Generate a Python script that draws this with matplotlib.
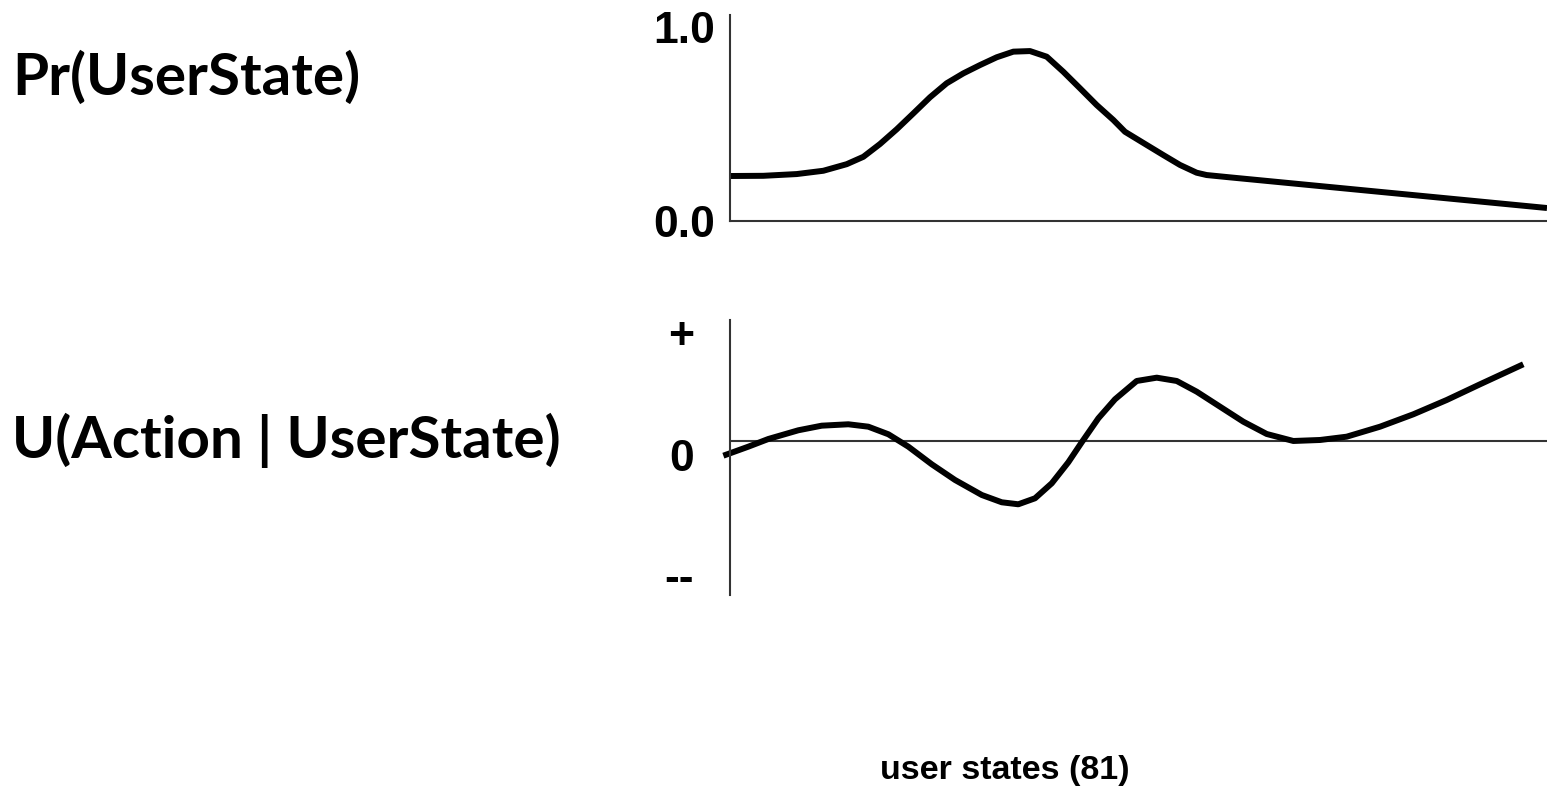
import matplotlib
matplotlib.use('Agg')
import matplotlib.pyplot as plt

## data (x = user state index, 0..81)
pr_x = [0, 3.30, 6.61, 9.25, 11.57, 13.22, 14.87, 16.53, 18.18, 19.83, 21.48, 23.13, 24.79, 26.44,
        28.09, 29.74, 31.40, 33.05, 34.70, 36.35, 38.00, 39.16, 41.31, 42.96, 44.61, 46.26, 47.25,
        49.57, 81]
pr_y = [0.232, 0.233, 0.242, 0.259, 0.293, 0.331, 0.397, 0.473, 0.555, 0.638, 0.710, 0.761, 0.804,
        0.844, 0.873, 0.876, 0.847, 0.769, 0.684, 0.598, 0.521, 0.460, 0.392, 0.340, 0.289, 0.249,
        0.237, 0.225, 0.067]

u_x = [-0.66, 1.81, 3.80, 6.77, 9.09, 11.73, 13.71, 15.70, 17.68, 20.00, 22.31, 24.96, 26.94,
       28.58, 30.24, 31.90, 33.54, 34.87, 36.52, 38.17, 40.32, 42.31, 44.29, 46.27, 48.58, 50.89,
       53.21, 55.85, 58.50, 61.14, 64.45, 67.75, 71.06, 74.36, 78.65]
u_y = [-0.147, -0.057, 0.02, 0.107, 0.153, 0.167, 0.143, 0.067, -0.057, -0.233, -0.39, -0.54,
       -0.613, -0.633, -0.573, -0.423, -0.213, -0.013, 0.227, 0.417, 0.60, 0.633, 0.60, 0.493,
       0.343, 0.193, 0.07, 0.0, 0.01, 0.043, 0.143, 0.267, 0.41, 0.567, 0.767]

pr_ticks = [0.0, 1.0]
pr_ticklabels = ['0.0', '1.0']
u_ticks = [-1.34, -0.14, 1.08]
u_ticklabels = ['--', '0', '+']

fig = plt.figure(figsize=(15.47, 7.93), dpi=100)
axis_col = '#333333'
tick_font = dict(family='Liberation Sans', weight='bold', size=32)

# top panel: Pr(UserState)
ax1 = fig.add_axes([0.4719, 0.7213, 0.5281, 0.2598])
ax1.plot(pr_x, pr_y, color='black', lw=4.3, solid_joinstyle='round', solid_capstyle='butt',
         clip_on=False)
ax1.set_xlim(0, 81)
ax1.set_ylim(0, 1.062)
ax1.set_xticks([])
ax1.set_yticks(pr_ticks)
ax1.set_yticklabels(pr_ticklabels, fontdict=tick_font)
ax1.tick_params(axis='y', length=0, pad=11)
for s in ['top', 'right']:
    ax1.spines[s].set_visible(False)
for s in ['left', 'bottom']:
    ax1.spines[s].set_color(axis_col)
    ax1.spines[s].set_linewidth(1.5)

# bottom panel: U(Action | UserState)
ax2 = fig.add_axes([0.4719, 0.2497, 0.5281, 0.3468])
ax2.axhline(0, color=axis_col, lw=1.5)
ax2.plot(u_x, u_y, color='black', lw=4.3, solid_joinstyle='round', solid_capstyle='butt',
         clip_on=False)
ax2.set_xlim(0, 81)
ax2.set_ylim(-1.54, 1.21)
ax2.set_xticks([])
ax2.set_yticks(u_ticks)
ax2.set_yticklabels(u_ticklabels, fontdict=tick_font)
ax2.tick_params(axis='y', length=0, pad=26)
for s in ['top', 'right', 'bottom']:
    ax2.spines[s].set_visible(False)
ax2.spines['left'].set_color(axis_col)
ax2.spines['left'].set_linewidth(1.5)

# labels
fig.text(0.0078, 0.9016, 'Pr(UserState)', family='Lato', weight='bold', size=42, va='center')
fig.text(0.0078, 0.445, 'U(Action | UserState)', family='Lato', weight='bold', size=42, va='center')
fig.text(0.6497, 0.029, 'user states (81)', family='Liberation Sans', weight='bold', size=24.5,
         ha='center', va='center')

fig.savefig('out.png', dpi=100)
